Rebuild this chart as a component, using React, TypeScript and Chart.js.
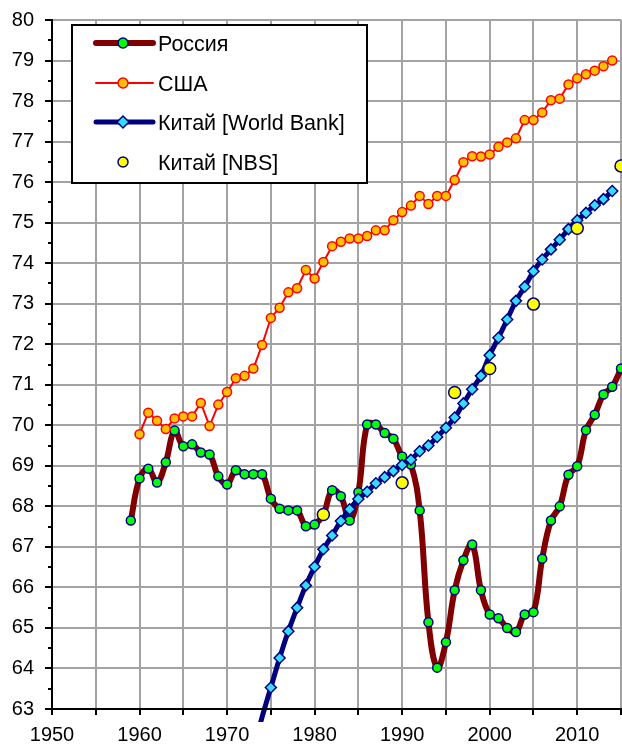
import React, { useEffect, useRef } from 'react';
import { Chart, registerables } from 'chart.js';

Chart.register(...registerables);

const YEARS = [
  1959, 1960, 1961, 1962, 1963, 1964, 1965, 1966, 1967, 1968, 1969,
  1970, 1971, 1972, 1973, 1974, 1975, 1976, 1977, 1978, 1979,
  1980, 1981, 1982, 1983, 1984, 1985, 1986, 1987, 1988, 1989,
  1990, 1991, 1992, 1993, 1994, 1995, 1996, 1997, 1998, 1999,
  2000, 2001, 2002, 2003, 2004, 2005, 2006, 2007, 2008, 2009,
  2010, 2011, 2012, 2013, 2014, 2015,
];

const RUSSIA = [
  67.65, 68.69, 68.93, 68.59, 69.09, 69.87, 69.48, 69.53, 69.33, 69.28, 68.74,
  68.54, 68.89, 68.79, 68.79, 68.79, 68.19, 67.94, 67.90, 67.90, 67.51,
  67.55, 67.80, 68.40, 68.25, 67.65, 68.35, 70.02, 70.02, 69.81, 69.67,
  69.23, 69.03, 67.90, 65.14, 64.02, 64.65, 65.93, 66.67, 67.06, 65.93,
  65.33, 65.24, 65.00, 64.90, 65.33, 65.39, 66.71, 67.65, 68.00, 68.78,
  68.99, 69.88, 70.26, 70.76, 70.95, 71.40,
];

const USA = [
  null, 69.78, 70.31, 70.11, 69.91, 70.17, 70.22, 70.22, 70.55, 69.98, 70.51,
  70.82, 71.16, 71.22, 71.40, 71.98, 72.65, 72.90, 73.28, 73.38, 73.83,
  73.62, 74.03, 74.42, 74.53, 74.61, 74.61, 74.67, 74.81, 74.81, 75.06,
  75.26, 75.42, 75.66, 75.46, 75.66, 75.66, 76.05, 76.49, 76.64, 76.63,
  76.68, 76.87, 76.98, 77.08, 77.53, 77.53, 77.72, 78.02, 78.06, 78.41,
  78.56, 78.66, 78.75, 78.86, 79.00, null,
];

const CHINA_WB = [
  null, null, null, null, null, null, null, null, null, null, null,
  null, null, 61.2, 62.0, 62.8, 63.53, 64.26, 64.92, 65.50, 66.05,
  66.51, 66.94, 67.28, 67.64, 67.93, 68.18, 68.36, 68.57, 68.72, 68.87,
  69.02, 69.15, 69.36, 69.50, 69.71, 69.94, 70.19, 70.54, 70.89, 71.22,
  71.73, 72.16, 72.61, 73.07, 73.42, 73.80, 74.09, 74.34, 74.58, 74.84,
  75.06, 75.24, 75.43, 75.58, 75.78, null,
];

const CHINA_NBS = [
  null, null, null, null, null, null, null, null, null, null, null,
  null, null, null, null, null, null, null, null, null, null,
  null, 67.80, null, null, null, null, null, null, null, null,
  68.58, null, null, null, null, null, 70.81, null, null, null,
  71.40, null, null, null, null, 72.99, null, null, null, null,
  74.86, null, null, null, null, 76.40,
];

const SERIES_NAMES = ['Россия', 'США', 'Китай [World Bank]', 'Китай [NBS]'];

const X_MIN = 1950;
const X_MAX = 2015;
const Y_MIN = 63;
const Y_MAX = 80;

const FONT = "'Liberation Sans', Arial, sans-serif";
const GRID = '#a3a3a3';

type Style = {
  line: string | null;
  lineWidth: number;
  marker: 'circle' | 'rectRot';
  fill: string;
  stroke: string;
  legendR: number;
};

const STYLES: Style[] = [
  { line: '#800000', lineWidth: 6, marker: 'circle', fill: '#00ff00', stroke: '#000080', legendR: 5 },
  { line: '#ff0000', lineWidth: 2, marker: 'circle', fill: '#ffc000', stroke: '#ff0000', legendR: 5 },
  { line: '#000080', lineWidth: 5, marker: 'rectRot', fill: '#33ddff', stroke: '#000080', legendR: 6 },
  { line: null, lineWidth: 0, marker: 'circle', fill: '#ffff00', stroke: '#000080', legendR: 5 },
];

function toPoints(values: (number | null)[]) {
  return YEARS.map((yr, i) => ({ x: yr, y: values[i] }));
}

function drawMarker(ctx: CanvasRenderingContext2D, s: Style, x: number, y: number, r: number) {
  ctx.beginPath();
  if (s.marker === 'rectRot') {
    ctx.moveTo(x, y - r);
    ctx.lineTo(x + r, y);
    ctx.lineTo(x, y + r);
    ctx.lineTo(x - r, y);
    ctx.closePath();
  } else {
    ctx.arc(x, y, r, 0, Math.PI * 2);
  }
  ctx.fillStyle = s.fill;
  ctx.fill();
  ctx.lineWidth = 1.5;
  ctx.strokeStyle = s.stroke;
  ctx.stroke();
}

const axisPlugin = {
  id: 'axisTicks',
  afterDraw(chart: any) {
    const { ctx, chartArea: a, scales } = chart;
    const xs = scales.x;
    const ys = scales.y;
    ctx.save();
    ctx.strokeStyle = '#000';
    ctx.lineWidth = 2;
    ctx.beginPath();
    for (let v = Y_MIN; v <= Y_MAX + 0.001; v += 0.5) {
      const py = Math.round(ys.getPixelForValue(v));
      const len = Math.abs(v - Math.round(v)) < 0.01 ? 7 : 4;
      ctx.moveTo(a.left - len, py);
      ctx.lineTo(a.left, py);
    }
    for (let yr = X_MIN; yr <= X_MAX; yr += 5) {
      const px = Math.round(xs.getPixelForValue(yr));
      ctx.moveTo(px, a.bottom);
      ctx.lineTo(px, a.bottom + 6);
    }
    ctx.stroke();
    ctx.beginPath();
    ctx.moveTo(a.left, Math.round(a.top) - 1);
    ctx.lineTo(a.left, a.bottom + 6);
    ctx.moveTo(a.left - 1, a.bottom);
    ctx.lineTo(a.right + 1, a.bottom);
    ctx.stroke();
    ctx.restore();
  },
};

const legendPlugin = {
  id: 'boxLegend',
  afterDraw(chart: any) {
    const { ctx } = chart;
    const bx = 72, by = 25, bw = 295, bh = 158;
    ctx.save();
    ctx.fillStyle = '#fff';
    ctx.fillRect(bx, by, bw, bh);
    ctx.strokeStyle = '#000';
    ctx.lineWidth = 2;
    ctx.strokeRect(bx, by, bw, bh);
    const rows = [43, 83, 122, 162];
    SERIES_NAMES.forEach((name, i) => {
      const s = STYLES[i];
      const ry = rows[i];
      if (s.line) {
        ctx.beginPath();
        ctx.moveTo(96, ry);
        ctx.lineTo(153, ry);
        ctx.strokeStyle = s.line;
        ctx.lineWidth = s.lineWidth;
        ctx.lineCap = 'round';
        ctx.stroke();
      }
      drawMarker(ctx, s, 123, ry, s.legendR);
      ctx.fillStyle = '#000';
      ctx.font = `21.5px ${FONT}`;
      ctx.textBaseline = 'middle';
      ctx.textAlign = 'left';
      ctx.fillText(name, 158, ry + 2);
    });
    ctx.restore();
  },
};

export default function App() {
  const ref = useRef<HTMLCanvasElement | null>(null);

  useEffect(() => {
    if (!ref.current) return;
    const chart = new Chart(ref.current, {
      type: 'line',
      data: {
        datasets: [
          {
            label: SERIES_NAMES[3],
            data: toPoints(CHINA_NBS),
            showLine: false,
            pointStyle: 'circle',
            pointRadius: 6,
            pointBackgroundColor: STYLES[3].fill,
            pointBorderColor: STYLES[3].stroke,
            pointBorderWidth: 1.5,
            clip: false,
            order: 0,
          },
          {
            label: SERIES_NAMES[2],
            data: toPoints(CHINA_WB),
            borderColor: STYLES[2].line,
            borderWidth: STYLES[2].lineWidth,
            tension: 0.3,
            pointStyle: 'rectRot',
            pointRadius: (c: any) => (c.raw && c.raw.y != null && c.raw.y < Y_MIN ? 0 : 5.5),
            pointBackgroundColor: STYLES[2].fill,
            pointBorderColor: STYLES[2].stroke,
            pointBorderWidth: 1.5,
            clip: { left: false, top: false, right: false, bottom: 13 },
            order: 1,
          },
          {
            label: SERIES_NAMES[1],
            data: toPoints(USA),
            borderColor: STYLES[1].line,
            borderWidth: STYLES[1].lineWidth,
            tension: 0,
            pointStyle: 'circle',
            pointRadius: 4.5,
            pointBackgroundColor: STYLES[1].fill,
            pointBorderColor: STYLES[1].stroke,
            pointBorderWidth: 1.5,
            clip: false,
            order: 2,
          },
          {
            label: SERIES_NAMES[0],
            data: toPoints(RUSSIA),
            borderColor: STYLES[0].line,
            borderWidth: STYLES[0].lineWidth,
            tension: 0.4,
            pointStyle: 'circle',
            pointRadius: 4.5,
            pointBackgroundColor: STYLES[0].fill,
            pointBorderColor: STYLES[0].stroke,
            pointBorderWidth: 1.5,
            clip: false,
            order: 3,
          },
        ] as any,
      },
      options: {
        responsive: false,
        animation: false,
        devicePixelRatio: 1,
        events: [],
        layout: { autoPadding: false, padding: { top: 20, right: 1, left: 0, bottom: 0 } },
        plugins: {
          legend: { display: false },
          tooltip: { enabled: false },
        },
        scales: {
          x: {
            type: 'linear',
            min: X_MIN,
            max: X_MAX,
            afterFit: (s: any) => {
              s.height = 35;
              s.paddingLeft = 0;
              s.paddingRight = 0;
              s.paddingTop = 0;
              s.paddingBottom = 0;
            },
            ticks: {
              stepSize: 5,
              autoSkip: false,
              maxRotation: 0,
              padding: 14,
              color: '#000',
              font: { family: FONT, size: 20 },
              callback: (v: any) => (Number(v) % 10 === 0 ? String(v) : ''),
            },
            grid: { color: GRID, lineWidth: 2, drawTicks: false },
            border: { display: false },
          },
          y: {
            type: 'linear',
            min: Y_MIN,
            max: Y_MAX,
            afterFit: (s: any) => {
              s.width = 52;
              s.paddingLeft = 0;
              s.paddingRight = 0;
              s.paddingTop = 0;
              s.paddingBottom = 0;
            },
            ticks: {
              stepSize: 1,
              autoSkip: false,
              padding: 18,
              color: '#000',
              font: { family: FONT, size: 20 },
            },
            grid: { color: GRID, lineWidth: 2, drawTicks: false },
            border: { display: false },
          },
        },
      } as any,
      plugins: [axisPlugin, legendPlugin],
    });
    return () => chart.destroy();
  }, []);

  return (
    <div style={{ position: 'fixed', left: 0, top: 0, width: 622, height: 744, background: '#fff' }}>
      <canvas ref={ref} width={622} height={744} style={{ width: 622, height: 744 }} />
    </div>
  );
}
